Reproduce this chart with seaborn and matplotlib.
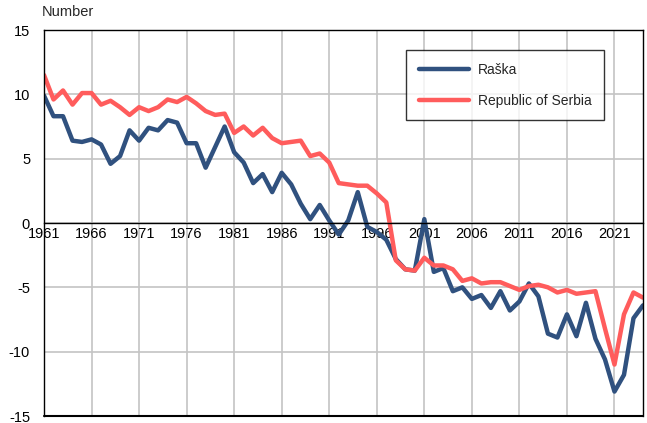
import matplotlib
matplotlib.use('Agg')
import matplotlib.pyplot as plt
import seaborn as sns
import numpy as np
import pandas as pd

# Years and natural increase values (per 1000 population)
years = list(range(1961, 2025))

raska = [9.9, 8.3, 8.3, 6.4, 6.3, 6.5, 6.1, 4.6, 5.2, 7.2,
         6.4, 7.4, 7.2, 8.0, 7.8, 6.2, 6.2, 4.3, 5.9, 7.5,
         5.5, 4.7, 3.1, 3.8, 2.4, 3.9, 3.0, 1.5, 0.3, 1.4,
         0.2, -0.9, 0.2, 2.4, -0.3, -0.7, -1.3, -2.8, -3.6, -3.7,
         0.3, -3.8, -3.5, -5.3, -5.0, -5.9, -5.6, -6.6, -5.3, -6.8,
         -6.1, -4.7, -5.7, -8.6, -8.9, -7.1, -8.8, -6.2, -9.0, -10.6,
         -13.1, -11.8, -7.4, -6.4]

serbia = [11.5, 9.6, 10.3, 9.2, 10.1, 10.1, 9.2, 9.5, 9.0, 8.4,
          9.0, 8.7, 9.0, 9.6, 9.4, 9.8, 9.3, 8.7, 8.4, 8.5,
          7.0, 7.5, 6.8, 7.4, 6.6, 6.2, 6.3, 6.4, 5.2, 5.4,
          4.7, 3.1, 3.0, 2.9, 2.9, 2.3, 1.6, -2.9, -3.6, -3.7,
          -2.7, -3.3, -3.3, -3.6, -4.5, -4.3, -4.7, -4.6, -4.6, -4.9,
          -5.2, -4.9, -4.8, -5.0, -5.4, -5.2, -5.5, -5.4, -5.3, -8.2,
          -11.0, -7.1, -5.4, -5.8]

series_names = ['Raška', 'Republic of Serbia']
colors = ['#30517F', '#FF5C5C']

df = pd.DataFrame({
    'year': years * 2,
    'value': raska + serbia,
    'area': [series_names[0]] * len(years) + [series_names[1]] * len(years),
})

sns.set_style('white')
plt.rcParams['font.family'] = ['Liberation Sans', 'DejaVu Sans']
plt.rcParams['axes.unicode_minus'] = False

fig = plt.figure(figsize=(6.47, 4.23), dpi=100)
ax = fig.add_axes([44 / 647, 1 - 416 / 423, 599 / 647, 386 / 423])

sns.lineplot(data=df, x='year', y='value', hue='area', palette=colors,
             linewidth=3.2, ax=ax, legend=True)

ax.set_xlim(1961, 2024)
ax.set_ylim(-15, 15)
ax.set_xticks(list(range(1961, 2025, 5)))
ax.set_yticks([-15, -10, -5, 0, 5, 10, 15])
ax.grid(True, color='#C4C4C4', linewidth=1.2)
ax.set_axisbelow(True)

# x axis crosses at zero, like the original
ax.spines['bottom'].set_position(('data', 0))
for s in ax.spines.values():
    s.set_color('black')
    s.set_linewidth(1.0)
ax.axhline(-15, color='black', linewidth=1.5, clip_on=False, zorder=5)
ax.tick_params(axis='both', length=0, labelsize=10.5, colors='black')
ax.tick_params(axis='x', pad=3)
ax.tick_params(axis='y', pad=10)

ax.set_xlabel('')
ax.set_ylabel('')
fig.text(42 / 647, 1 - 12 / 423, 'Number', fontsize=10.5, va='center', ha='left')

leg = ax.legend(loc='upper left', bbox_to_anchor=(406 / 647, 1 - 50 / 423),
                bbox_transform=fig.transFigure, frameon=True, fancybox=False,
                fontsize=10, handlelength=3.6, labelspacing=1.25,
                borderpad=0.9, handletextpad=0.7, borderaxespad=0)
leg.get_frame().set_edgecolor('black')
leg.get_frame().set_linewidth(1.0)
for line in leg.get_lines():
    line.set_linewidth(3.2)
leg.set_title(None)

fig.savefig('out.png', dpi=100)
